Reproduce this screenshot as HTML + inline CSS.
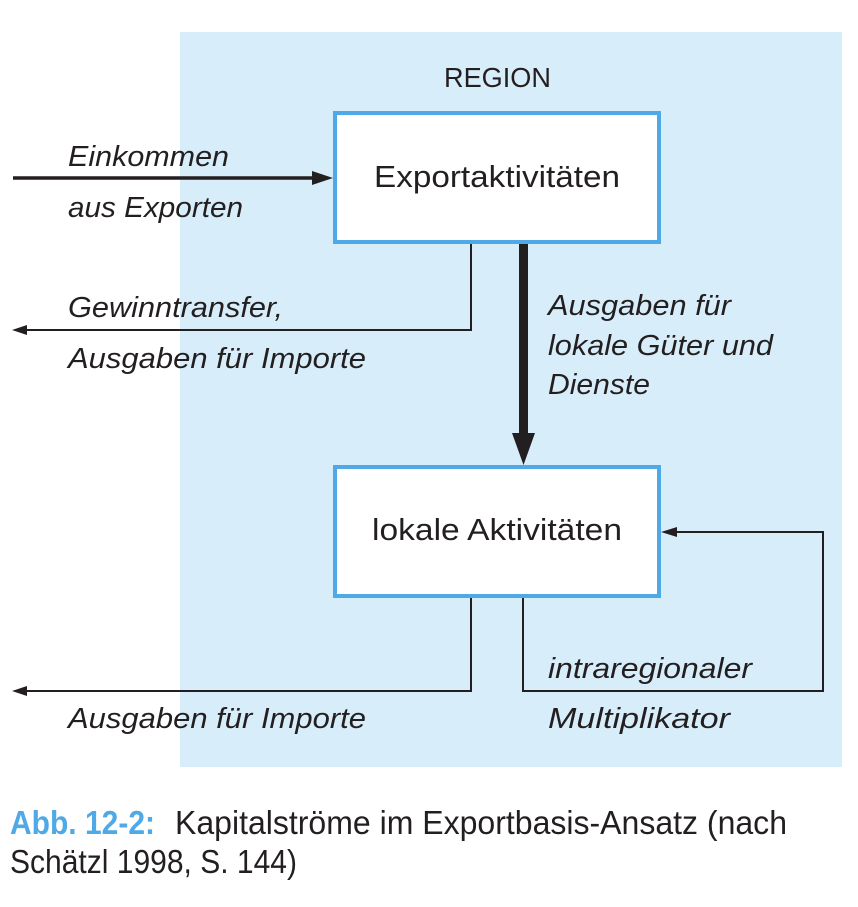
<!DOCTYPE html>
<html><head><meta charset="utf-8"><style>
html,body{margin:0;padding:0;background:#fff;}
svg{display:block;}
text{font-family:"Liberation Sans",sans-serif;fill:#231f20;}
.i{font-style:italic;font-size:29px;}
</style></head><body>
<svg width="858" height="907" viewBox="0 0 858 907" xmlns="http://www.w3.org/2000/svg">
<rect x="180" y="32" width="662" height="735" fill="#d8edfa"/>
<text x="444" y="87" font-size="28" textLength="107" lengthAdjust="spacingAndGlyphs">REGION</text>
<rect x="335" y="113" width="324" height="129" fill="#fff" stroke="#4fa9e6" stroke-width="4"/>
<text x="374" y="187" font-size="31" textLength="246" lengthAdjust="spacingAndGlyphs">Exportaktivitäten</text>
<rect x="335" y="467" width="324" height="129" fill="#fff" stroke="#4fa9e6" stroke-width="4"/>
<text x="372" y="540" font-size="31" textLength="250" lengthAdjust="spacingAndGlyphs">lokale Aktivitäten</text>
<line x1="13" y1="178" x2="315" y2="178" stroke="#231f20" stroke-width="3.5"/>
<polygon points="333,178 312,171 312,185" fill="#231f20"/>
<polyline points="471,244 471,330 25,330" fill="none" stroke="#231f20" stroke-width="2"/>
<polygon points="12,330 27,325 27,335" fill="#231f20"/>
<rect x="519" y="244" width="9" height="192" fill="#231f20"/>
<polygon points="512,433 535,433 523.5,465" fill="#231f20"/>
<polyline points="471,598 471,691 25,691" fill="none" stroke="#231f20" stroke-width="2"/>
<polygon points="12,691 27,686 27,696" fill="#231f20"/>
<polyline points="523,598 523,691 823,691 823,532 675,532" fill="none" stroke="#231f20" stroke-width="2"/>
<polygon points="661,532 677,527 677,537" fill="#231f20"/>
<text class="i" x="68" y="166" textLength="161" lengthAdjust="spacingAndGlyphs">Einkommen</text>
<text class="i" x="68" y="217" textLength="175" lengthAdjust="spacingAndGlyphs">aus Exporten</text>
<text class="i" x="68" y="317" textLength="215" lengthAdjust="spacingAndGlyphs">Gewinntransfer,</text>
<text class="i" x="68" y="368" textLength="298" lengthAdjust="spacingAndGlyphs">Ausgaben für Importe</text>
<text class="i" x="548" y="315" textLength="183" lengthAdjust="spacingAndGlyphs">Ausgaben für</text>
<text class="i" x="548" y="355" textLength="225" lengthAdjust="spacingAndGlyphs">lokale Güter und</text>
<text class="i" x="548" y="394" textLength="102" lengthAdjust="spacingAndGlyphs">Dienste</text>
<text class="i" x="548" y="678" textLength="204" lengthAdjust="spacingAndGlyphs">intraregionaler</text>
<text class="i" x="548" y="728" textLength="182" lengthAdjust="spacingAndGlyphs">Multiplikator</text>
<text class="i" x="68" y="728" textLength="298" lengthAdjust="spacingAndGlyphs">Ausgaben für Importe</text>
<text x="10" y="834" font-size="33" font-weight="bold" style="fill:#4fa9e6" textLength="145" lengthAdjust="spacingAndGlyphs">Abb. 12-2:</text>
<text x="175" y="834" font-size="33" textLength="612" lengthAdjust="spacingAndGlyphs">Kapitalströme im Exportbasis-Ansatz (nach</text>
<text x="10" y="873" font-size="33" textLength="287" lengthAdjust="spacingAndGlyphs">Schätzl 1998, S. 144)</text>
</svg>
</body></html>
